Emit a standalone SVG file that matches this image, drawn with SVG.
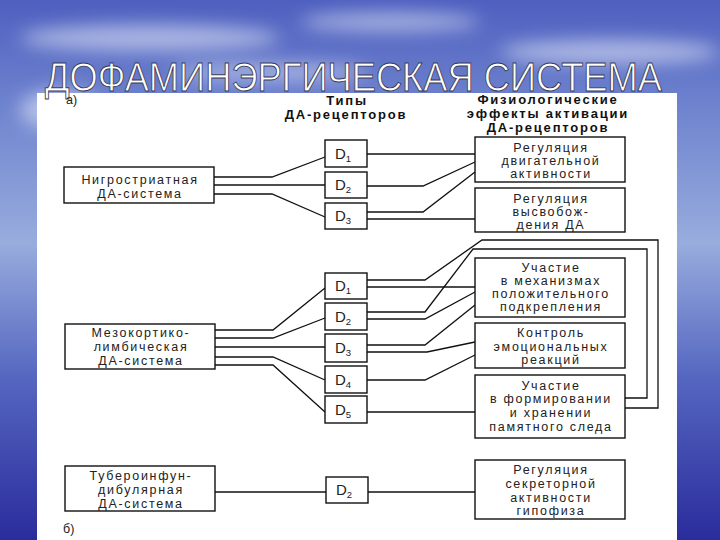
<svg xmlns="http://www.w3.org/2000/svg" width="720" height="540" viewBox="0 0 720 540">
<defs>
<linearGradient id="sky" x1="0" y1="0" x2="0" y2="1">
<stop offset="0" stop-color="#4e5fbf"/>
<stop offset="0.2" stop-color="#6f84cf"/>
<stop offset="0.45" stop-color="#98acdd"/>
<stop offset="0.7" stop-color="#5566c0"/>
<stop offset="1" stop-color="#2a2c9c"/>
</linearGradient>
<filter id="blur" x="-50%" y="-50%" width="200%" height="200%"><feGaussianBlur stdDeviation="9"/></filter>
<style>
.bx{fill:#fff;stroke:#111;stroke-width:1.4}
.t{font-family:"Liberation Sans",Arial,sans-serif;font-size:12.5px;letter-spacing:1.7px;fill:#222;text-anchor:middle}
.h{font-family:"Liberation Sans",Arial,sans-serif;font-size:13px;font-weight:bold;letter-spacing:1.8px;fill:#111;text-anchor:middle}
.d{font-family:"Liberation Sans",Arial,sans-serif;font-size:15px;fill:#222;text-anchor:middle}
.sub{font-size:9.5px}
.ln{fill:none;stroke:#111;stroke-width:1.3;stroke-linejoin:miter}
</style>
</defs>
<rect width="720" height="540" fill="url(#sky)"/>
<g filter="url(#blur)" fill="#e3e9f8" opacity="0.6">
<ellipse cx="150" cy="38" rx="130" ry="13"/>
<ellipse cx="390" cy="22" rx="90" ry="9"/>
<ellipse cx="610" cy="52" rx="110" ry="12"/>
<ellipse cx="270" cy="72" rx="100" ry="8"/>
<ellipse cx="60" cy="110" rx="40" ry="20"/>
</g>
<rect x="37" y="93" width="640" height="447" fill="#fff"/>
<text transform="translate(45,91) scale(1,1.18)" x="0" y="0" font-family="'Liberation Sans Narrow','Liberation Sans',Arial,sans-serif" font-size="35" fill="#fff" stroke="#3a3a55" stroke-width="0.8" textLength="617" lengthAdjust="spacingAndGlyphs">ДОФАМИНЭРГИЧЕСКАЯ СИСТЕМА</text>
<text x="66" y="104" class="t" style="text-anchor:start;letter-spacing:0">а)</text>
<text x="63" y="533" class="t" style="text-anchor:start;letter-spacing:0">б)</text>
<g id="headers">
<text x="347" y="105" class="h">Типы</text>
<text x="346" y="119" class="h">ДА-рецепторов</text>
<text x="548" y="104" class="h">Физиологические</text>
<text x="548" y="118" class="h">эффекты активации</text>
<text x="548" y="132" class="h">ДА-рецепторов</text>
</g>
<g id="connectors">
<polyline class="ln" points="214,177 272,177 325,157"/>
<polyline class="ln" points="214,185 325,185"/>
<polyline class="ln" points="214,194 272,194 325,217"/>
<polyline class="ln" points="367,154 475,154"/>
<polyline class="ln" points="367,186 423,186 475,162"/>
<polyline class="ln" points="367,212 423,212 475,172"/>
<polyline class="ln" points="367,219 475,219"/>
<polyline class="ln" points="215,330 273,330 325,288"/>
<polyline class="ln" points="215,338 273,338 325,318"/>
<polyline class="ln" points="215,347 325,347"/>
<polyline class="ln" points="215,357 273,357 325,380"/>
<polyline class="ln" points="215,365 273,365 325,412"/>
<polyline class="ln" points="367,280 425,280 482,240 658,240 658,408 625,408"/>
<polyline class="ln" points="367,287 475,287"/>
<polyline class="ln" points="367,312 425,312 473,249 647,249 647,398 625,398"/>
<polyline class="ln" points="367,319 425,319 475,292"/>
<polyline class="ln" points="367,345 425,345 475,305"/>
<polyline class="ln" points="367,352 427,352 475,342"/>
<polyline class="ln" points="367,380 425,380 475,355"/>
<polyline class="ln" points="367,412 475,412"/>
<polyline class="ln" points="215,492 326,492"/>
<polyline class="ln" points="368,492 475,492"/>
</g>
<g id="nigro"><rect class="bx" x="64" y="167" width="150" height="36"/>
<text class="t" x="140" y="184">Нигростриатная</text><text class="t" x="140" y="198">ДА-система</text></g>
<g id="mezo"><rect class="bx" x="65" y="324" width="150" height="45"/>
<text class="t" x="141" y="337">Мезокортико-</text><text class="t" x="141" y="351">лимбическая</text><text class="t" x="141" y="365">ДА-система</text></g>
<g id="tubero"><rect class="bx" x="65" y="466" width="150" height="45"/>
<text class="t" x="141" y="480">Тубероинфун-</text><text class="t" x="141" y="494">дибулярная</text><text class="t" x="141" y="508">ДА-система</text></g>
<g id="n1-d1"><rect class="bx" x="325" y="140" width="42" height="27"/><text class="d" x="343" y="159">D<tspan class="sub" dy="3">1</tspan></text></g>
<g id="n1-d2"><rect class="bx" x="325" y="172" width="42" height="26"/><text class="d" x="343" y="190">D<tspan class="sub" dy="3">2</tspan></text></g>
<g id="n1-d3"><rect class="bx" x="325" y="203" width="42" height="26"/><text class="d" x="343" y="221">D<tspan class="sub" dy="3">3</tspan></text></g>
<g id="n2-d1"><rect class="bx" x="325" y="273" width="42" height="26"/><text class="d" x="343" y="291">D<tspan class="sub" dy="3">1</tspan></text></g>
<g id="n2-d2"><rect class="bx" x="325" y="303" width="42" height="27"/><text class="d" x="343" y="322">D<tspan class="sub" dy="3">2</tspan></text></g>
<g id="n2-d3"><rect class="bx" x="325" y="334" width="42" height="28"/><text class="d" x="343" y="353">D<tspan class="sub" dy="3">3</tspan></text></g>
<g id="n2-d4"><rect class="bx" x="325" y="366" width="42" height="27"/><text class="d" x="343" y="385">D<tspan class="sub" dy="3">4</tspan></text></g>
<g id="n2-d5"><rect class="bx" x="325" y="396" width="42" height="27"/><text class="d" x="343" y="415">D<tspan class="sub" dy="3">5</tspan></text></g>
<g id="n3-d2"><rect class="bx" x="326" y="477" width="42" height="26"/><text class="d" x="344" y="495">D<tspan class="sub" dy="3">2</tspan></text></g>
<g id="motor"><rect class="bx" x="475" y="137" width="150" height="45"/>
<text class="t" x="551" y="152">Регуляция</text><text class="t" x="551" y="165">двигательной</text><text class="t" x="551" y="178">активности</text></g>
<g id="release"><rect class="bx" x="475" y="188" width="150" height="44"/>
<text class="t" x="551" y="203">Регуляция</text><text class="t" x="551" y="216">высвобож-</text><text class="t" x="551" y="229">дения ДА</text></g>
<g id="reward"><rect class="bx" x="475" y="258" width="150" height="59"/>
<text class="t" x="551" y="272">Участие</text><text class="t" x="551" y="285">в механизмах</text><text class="t" x="551" y="298">положительного</text><text class="t" x="551" y="311">подкрепления</text></g>
<g id="emotion"><rect class="bx" x="475" y="323" width="150" height="45"/>
<text class="t" x="551" y="337">Контроль</text><text class="t" x="551" y="351">эмоциональных</text><text class="t" x="551" y="364">реакций</text></g>
<g id="memory"><rect class="bx" x="475" y="375" width="150" height="63"/>
<text class="t" x="551" y="390">Участие</text><text class="t" x="551" y="403">в формировании</text><text class="t" x="551" y="417">и хранении</text><text class="t" x="551" y="431">памятного следа</text></g>
<g id="secretion"><rect class="bx" x="475" y="460" width="150" height="59"/>
<text class="t" x="551" y="474">Регуляция</text><text class="t" x="551" y="488">секреторной</text><text class="t" x="551" y="502">активности</text><text class="t" x="551" y="515">гипофиза</text></g>
</svg>
